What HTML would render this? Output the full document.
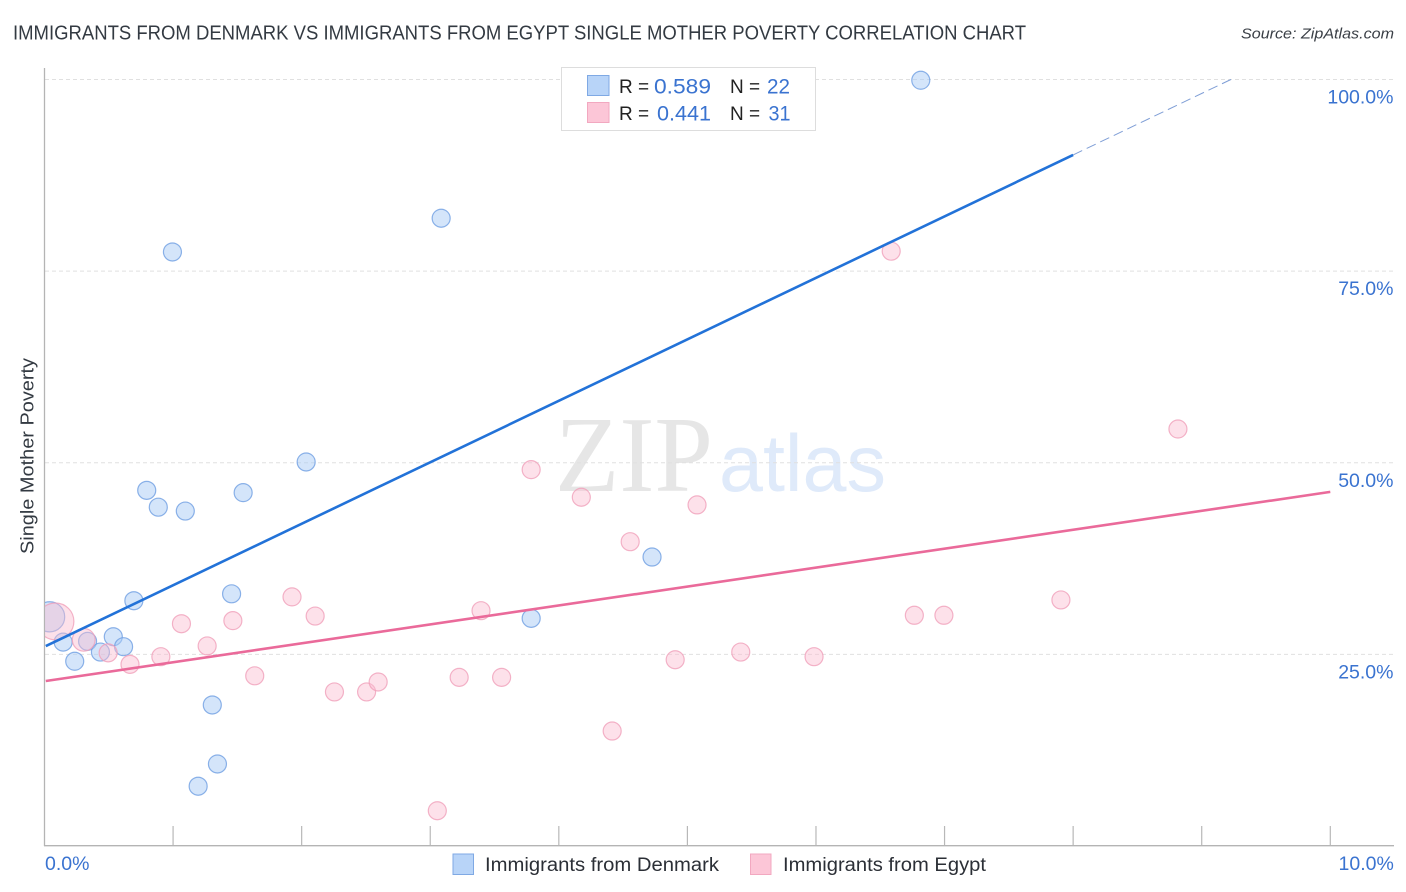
<!DOCTYPE html>
<html lang="en">
<head>
<meta charset="utf-8">
<title>Immigrants from Denmark vs Immigrants from Egypt Single Mother Poverty Correlation Chart</title>
<style>
html,body{margin:0;padding:0;background:#fff;width:1406px;height:892px;overflow:hidden}
svg{display:block}
text{font-family:"Liberation Sans",sans-serif}
</style>
</head>
<body>
<svg id="chart" xmlns="http://www.w3.org/2000/svg" width="1406" height="892" viewBox="0 0 1406 892">
  <defs>
    <clipPath id="plot-clip"><rect x="45" y="60" width="1349" height="786"/></clipPath>
  </defs>
  <text x="13" y="39.5" font-size="20" fill="#333a42" textLength="1013" lengthAdjust="spacingAndGlyphs">IMMIGRANTS FROM DENMARK VS IMMIGRANTS FROM EGYPT SINGLE MOTHER POVERTY CORRELATION CHART</text>
  <text x="1241" y="38.5" font-size="15" font-style="italic" fill="#3a3f46" textLength="153" lengthAdjust="spacingAndGlyphs">Source: ZipAtlas.com</text>

  <g>
    <text x="555" y="491" font-size="108" fill="#e6e6e6" style="font-family:'Liberation Serif',serif" textLength="158" lengthAdjust="spacingAndGlyphs">ZIP</text>
    <text x="719" y="491" font-size="81" fill="#dfeafa" textLength="167" lengthAdjust="spacingAndGlyphs">atlas</text>
  </g>

  <g id="grid"></g>
  <g id="axes"></g>
  <g id="points" clip-path="url(#plot-clip)"></g>
  <g id="trends"></g>
  <g id="labels"></g>

  <text transform="translate(33.5,554) rotate(-90)" font-size="18" fill="#333a42" textLength="196" lengthAdjust="spacingAndGlyphs">Single Mother Poverty</text>

  <g>
    <rect x="561.5" y="67.5" width="254" height="63" fill="#fff" stroke="#dddddd" stroke-width="1"/>
    <rect x="587.5" y="75.5" width="21.5" height="20" fill="#b8d4f8" stroke="#7fa9e4" stroke-width="1"/>
    <text x="619" y="93" font-size="19" fill="#222">R =</text>
    <text x="654" y="93.5" font-size="21.5" fill="#3a73d0" textLength="57" lengthAdjust="spacingAndGlyphs">0.589</text>
    <text x="730" y="93" font-size="19" fill="#222">N =</text>
    <text x="767" y="93.5" font-size="21.5" fill="#3a73d0" textLength="23" lengthAdjust="spacingAndGlyphs">22</text>
    <rect x="587.5" y="102.5" width="21.5" height="20" fill="#fcc6d7" stroke="#f2a8c0" stroke-width="1"/>
    <text x="619" y="120" font-size="19" fill="#222">R =</text>
    <text x="657" y="120.5" font-size="21.5" fill="#3a73d0" textLength="54" lengthAdjust="spacingAndGlyphs">0.441</text>
    <text x="730" y="120" font-size="19" fill="#222">N =</text>
    <text x="768.5" y="120.5" font-size="21.5" fill="#3a73d0" textLength="22" lengthAdjust="spacingAndGlyphs">31</text>
  </g>

  <g>
    <g>
      <rect x="453" y="854" width="20.5" height="20.5" fill="#b8d4f8" stroke="#7fa9e4" stroke-width="1"/>
      <text x="485" y="871" font-size="19" fill="#2b2f36" textLength="234" lengthAdjust="spacingAndGlyphs">Immigrants from Denmark</text>
    </g>
    <g>
      <rect x="750.5" y="854" width="20.5" height="20.5" fill="#fcc6d7" stroke="#f2a8c0" stroke-width="1"/>
      <text x="783" y="871" font-size="19" fill="#2b2f36" textLength="203" lengthAdjust="spacingAndGlyphs">Immigrants from Egypt</text>
    </g>
  </g>
</svg>
<script>
const xTicks = [0, 1, 2, 3, 4, 5, 6, 7, 8, 9, 10];
const xLabelTicks = [0, 10];
const xTickLabels = ["0.0%", "10.0%"];
const yTicks = [25, 50, 75, 100];
const yTickLabels = ["25.0%", "50.0%", "75.0%", "100.0%"];

const denmarkX = [0.04, 0.145, 0.235, 0.335, 0.435, 0.535, 0.615, 0.695, 0.795, 0.885, 0.995, 1.095, 1.195, 1.305, 1.345, 1.455, 1.545, 2.035, 3.085, 3.785, 4.725, 6.815];
const denmarkY = [29.9, 26.6, 24.1, 26.7, 25.3, 27.3, 26.0, 32.0, 46.4, 44.2, 77.5, 43.7, 7.8, 18.4, 10.7, 32.9, 46.1, 50.1, 81.9, 29.7, 37.7, 99.9];
const denmarkWeight = [2.8, 1, 1, 1, 1, 1, 1, 1, 1, 1, 1, 1, 1, 1, 1, 1, 1, 1, 1, 1, 1, 1];

const egyptX = [0.085, 0.305, 0.495, 0.665, 0.905, 1.065, 1.265, 1.465, 1.635, 1.925, 2.105, 2.255, 2.505, 2.595, 3.055, 3.225, 3.395, 3.555, 3.785, 4.175, 4.415, 4.555, 4.905, 5.075, 5.415, 5.985, 6.585, 6.765, 6.995, 7.905, 8.815];
const egyptY = [29.3, 26.9, 25.2, 23.7, 24.7, 29.0, 26.1, 29.4, 22.2, 32.5, 30.0, 20.1, 20.1, 21.4, 4.6, 22.0, 30.7, 22.0, 49.1, 45.5, 15.0, 39.7, 24.3, 44.5, 25.3, 24.7, 77.6, 30.1, 30.1, 32.1, 54.4];
const egyptWeight = [4.2, 1.6, 1, 1, 1, 1, 1, 1, 1, 1, 1, 1, 1, 1, 1, 1, 1, 1, 1, 1, 1, 1, 1, 1, 1, 1, 1, 1, 1, 1, 1];

const denmarkTrendIntercept = 26.0;
const denmarkTrendSlope = 8.02;
const denmarkTrendSolidEnd = 8.0;
const egyptTrendIntercept = 21.5;
const egyptTrendSlope = 2.47;
const egyptTrendEnd = 10;
const trendStart = 0.01;
const yAxisMax = 100;

const SVG_NS = "http://www.w3.org/2000/svg";
const sx = v => 44.5 + v * 128.58;
const sy = v => 846 - v * 7.665;
const radius = w => 9 * Math.sqrt(w);

function make(tag, parentId, attrs) {
  const el = document.createElementNS(SVG_NS, tag);
  Object.keys(attrs).forEach(k => el.setAttribute(k, attrs[k]));
  document.getElementById(parentId).appendChild(el);
  return el;
}

yTicks.forEach((t, i) => {
  const line = make("line", "grid", {x1: 45, x2: 1394, y1: sy(t), y2: sy(t), stroke: "#e0e0e0", "stroke-width": 1, "stroke-dasharray": "4 3"});
  
  
  const label = make("text", "labels", {x: 1393.5, y: sy(t) + 24, "text-anchor": "end", "font-size": 19.5, fill: "#3a73d0"});
  label.textContent = yTickLabels[i];
  
  
});

xTicks.slice(1).forEach(t => {
  const tick = make("line", "axes", {x1: sx(t), x2: sx(t), y1: 826, y2: 846, stroke: "#b8b8b8", "stroke-width": 1.2});
  
  
});

const xAxisLine = make("line", "axes", {x1: 44, x2: 1394, y1: 845.7, y2: 845.7, stroke: "#b4b4b4", "stroke-width": 1.3});


const yAxisLine = make("line", "axes", {x1: 44.5, x2: 44.5, y1: 68, y2: 846, stroke: "#b4b4b4", "stroke-width": 1.3});



xLabelTicks.forEach((t, i) => {
  const anchor = i === 0 ? "start" : "end";
  const px = i === 0 ? sx(t) + 0.5 : sx(t) + 63.5;
  const label = make("text", "labels", {x: px, y: 870, "text-anchor": anchor, "font-size": 19.5, fill: "#3a73d0"});
  label.textContent = xTickLabels[i];
  
  
});

denmarkX.forEach((x, i) => {
  const c = make("circle", "points", {cx: sx(x), cy: sy(denmarkY[i]), r: radius(denmarkWeight[i]), fill: "#a9cbf5", "fill-opacity": 0.5, stroke: "#6f9fe2", "stroke-opacity": 0.8, "stroke-width": 1.2});
  
  
});

egyptX.forEach((x, i) => {
  const c = make("circle", "points", {cx: sx(x), cy: sy(egyptY[i]), r: radius(egyptWeight[i]), fill: "#fbbdd0", "fill-opacity": 0.45, stroke: "#f0a0ba", "stroke-opacity": 0.8, "stroke-width": 1.2});
  
  
});

const denmarkAt = x => denmarkTrendIntercept + denmarkTrendSlope * x;
const egyptAt = x => egyptTrendIntercept + egyptTrendSlope * x;
const denmarkDashEnd = (yAxisMax - denmarkTrendIntercept) / denmarkTrendSlope;

const dashTrend = make("line", "trends", {x1: sx(denmarkTrendSolidEnd), y1: sy(denmarkAt(denmarkTrendSolidEnd)), x2: sx(denmarkDashEnd), y2: sy(denmarkAt(denmarkDashEnd)), stroke: "#7f9ed6", "stroke-width": 1, "stroke-dasharray": "10 5"});



const blueTrend = make("line", "trends", {x1: sx(trendStart), y1: sy(denmarkAt(trendStart)), x2: sx(denmarkTrendSolidEnd), y2: sy(denmarkAt(denmarkTrendSolidEnd)), stroke: "#2272d8", "stroke-width": 2.6});



const pinkTrend = make("line", "trends", {x1: sx(trendStart), y1: sy(egyptAt(trendStart)), x2: sx(egyptTrendEnd), y2: sy(egyptAt(egyptTrendEnd)), stroke: "#ea6a9a", "stroke-width": 2.6});


</script>
</body>
</html>
